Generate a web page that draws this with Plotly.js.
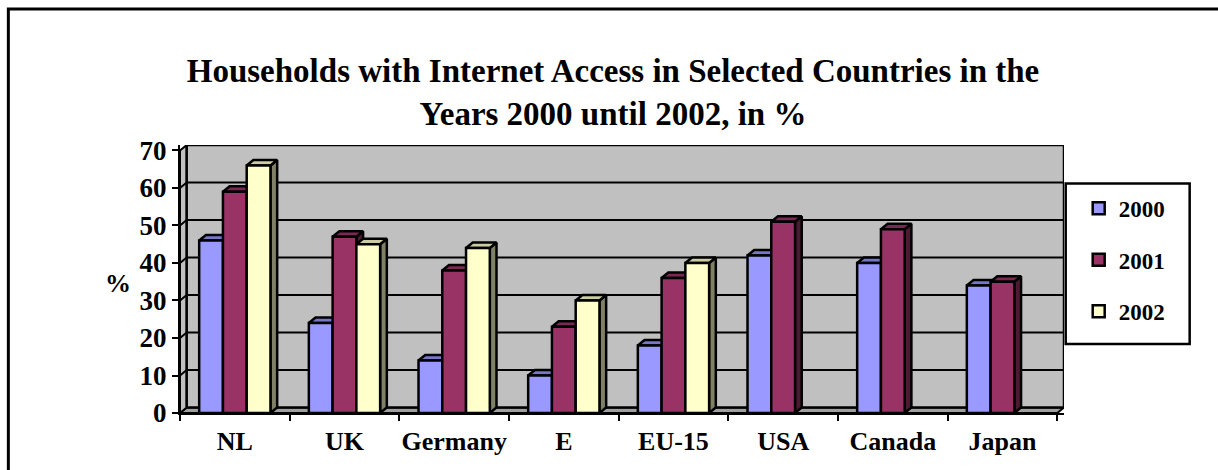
<!DOCTYPE html>
<html><head><meta charset="utf-8">
<script src="https://cdn.plot.ly/plotly-3.0.1.min.js"></script>
<style>html,body{margin:0;padding:0;background:#fff;} #chart{width:1218px;height:470px;}</style>
</head><body><div id="chart"></div>
<script>
// ---- data ----
const categories = ['NL', 'UK', 'Germany', 'E', 'EU-15', 'USA', 'Canada', 'Japan'];
const seriesNames = ['2000', '2001', '2002'];
const values2000 = [46, 24, 14, 10, 18, 42, 40, 34];
const values2001 = [59, 47, 38, 23, 36, 51, 49, 35];
const values2002 = [66, 45, 44, 30, 40, null, null, null];
const yTickValues = [0, 10, 20, 30, 40, 50, 60, 70];
const titleText = 'Households with Internet Access in Selected Countries in the<br>Years 2000 until 2002, in %';
const yTitleText = '%';

// ---- styles / geometry ----
const seriesValues = [values2000, values2001, values2002];
const frontColors = ['#9999FF', '#993366', '#FFFFCC'];
const topColors = ['#7777C8', '#7A2952', '#CCCCA3'];
const sideColors = ['#4D4D80', '#4D1A33', '#808066'];
const FONT = 'Liberation Serif, Times New Roman, serif';

const W = 1218, H = 470;
const plotLeft = 180, unitXpx = 109.7, y0px = 413.3, unitYpx = 263.3 / 70;
const depthXpx = 6.7, depthYpx = 5.5;
const dxu = depthXpx / unitXpx, dyu = depthYpx / unitYpx;
const nCat = categories.length;
const yMax = yTickValues[yTickValues.length - 1];
const xr = [-0.5, nCat - 0.5 + dxu];
const yr = [0, yMax + dyu];
const plotW = (xr[1] - xr[0]) * unitXpx;
const plotH = (yr[1] - yr[0]) * unitYpx;
const mL = plotLeft, mR = W - plotLeft - plotW, mT = y0px - plotH, mB = H - y0px;
const px2paperX = p => (p - mL) / plotW;
const px2paperY = p => (y0px - p) / plotH;

const bargap = 0.35;
const groupW = 1 - bargap;
const nSer = seriesValues.length;
const barW = groupW / nSer;
const barCenter = (i, k) => i - groupW / 2 + barW * (k + 0.5);

const traces = [];
const xL = -0.5, xRt = nCat - 0.5;

// floor
traces.push({x: [xL, xRt, xRt + dxu, xL + dxu, xL], y: [0, 0, dyu, dyu, 0],
  fill: 'toself', fillcolor: '#A0A0A0', mode: 'lines', line: {color: '#000', width: 2},
  hoverinfo: 'skip', showlegend: false});
// left wall
traces.push({x: [xL, xL + dxu, xL + dxu, xL, xL], y: [0, dyu, yMax + dyu, yMax, 0],
  fill: 'toself', fillcolor: '#C0C0C0', mode: 'lines', line: {color: '#000', width: 2},
  hoverinfo: 'skip', showlegend: false});
// back wall
traces.push({x: [xL + dxu, xRt + dxu, xRt + dxu, xL + dxu, xL + dxu], y: [dyu, dyu, yMax + dyu, yMax + dyu, dyu],
  fill: 'toself', fillcolor: '#C0C0C0', mode: 'lines', line: {color: '#000', width: 2.5},
  hoverinfo: 'skip', showlegend: false});
// gridlines
const gx = [], gy = [];
yTickValues.slice(1, -1).forEach(v => {
  gx.push(xL, xL + dxu, xRt + dxu, null);
  gy.push(v, v + dyu, v + dyu, null);
});
traces.push({x: gx, y: gy, mode: 'lines', line: {color: '#000', width: 2},
  hoverinfo: 'skip', showlegend: false, connectgaps: false});

// 3D sides and tops
seriesValues.forEach((vals, k) => {
  const sx = [], sy = [], tx = [], ty = [];
  vals.forEach((h, i) => {
    if (h === null) return;
    const c = barCenter(i, k), l = c - barW / 2, r = c + barW / 2;
    sx.push(r, r + dxu, r + dxu, r, r, null);
    sy.push(0, dyu, h + dyu, h, 0, null);
    tx.push(l, r, r + dxu, l + dxu, l, null);
    ty.push(h, h, h + dyu, h + dyu, h, null);
  });
  traces.push({x: sx, y: sy, fill: 'toself', fillcolor: sideColors[k], mode: 'lines',
    line: {color: '#000', width: 2.5}, hoverinfo: 'skip', showlegend: false});
  traces.push({x: tx, y: ty, fill: 'toself', fillcolor: topColors[k], mode: 'lines',
    line: {color: '#000', width: 2.5}, hoverinfo: 'skip', showlegend: false});
});

// front faces (bars) on overlay axes
seriesValues.forEach((vals, k) => {
  traces.push({type: 'bar', x: categories.map((_, i) => i), y: vals, name: seriesNames[k],
    xaxis: 'x2', yaxis: 'y2', legendgroup: seriesNames[k],
    marker: {color: frontColors[k], line: {color: '#000', width: 2.5}},
    hoverinfo: 'skip'});
});

const layout = {
  width: W, height: H,
  margin: {l: mL, r: mR, t: mT, b: mB, pad: 0},
  paper_bgcolor: '#fff', plot_bgcolor: 'rgba(0,0,0,0)',
  font: {family: FONT, color: '#000', size: 24, weight: 'bold'},
  title: {text: titleText, font: {family: FONT, size: 33, weight: 'bold', color: '#000'},
    x: 613 / W, xref: 'container', xanchor: 'center', y: 1 - 82 / H, yref: 'container', yanchor: 'middle'},
  barmode: 'group', bargap: bargap, bargroupgap: 0,
  showlegend: true,
  legend: {x: px2paperX(1079), y: px2paperY(186.5), xanchor: 'left', yanchor: 'top',
    bgcolor: 'rgba(0,0,0,0)', borderwidth: 0, traceorder: 'grouped', tracegroupgap: 18.5,
    font: {family: FONT, size: 23, weight: 'bold', color: '#000'}},
  xaxis: {range: xr, tickmode: 'array', tickvals: categories.map((_, i) => i), ticktext: categories,
    ticks: '', ticklabelstandoff: 4, showgrid: false, zeroline: false, showline: true, linecolor: '#000', linewidth: 2,
    tickfont: {family: FONT, size: 26, weight: 'bold', color: '#000'},
    minor: {tickmode: 'linear', tick0: -0.5, dtick: 1, ticks: 'outside', ticklen: 6, tickwidth: 2, tickcolor: '#000', showgrid: false},
    fixedrange: true},
  yaxis: {range: yr, tickmode: 'array', tickvals: yTickValues, ticks: 'outside', ticklen: 6, tickwidth: 2, tickcolor: '#000',
    showgrid: false, zeroline: false, showline: true, linecolor: '#000', linewidth: 2,
    tickfont: {family: FONT, size: 27, weight: 'bold', color: '#000'}, fixedrange: true},
  xaxis2: {range: xr, overlaying: 'x', visible: false, fixedrange: true},
  yaxis2: {range: yr, overlaying: 'y', visible: false, fixedrange: true},
  annotations: [{text: yTitleText, xref: 'paper', yref: 'paper', x: px2paperX(118), y: px2paperY(283),
    xanchor: 'center', yanchor: 'middle', showarrow: false,
    font: {family: FONT, size: 26, weight: 'bold', color: '#000'}}],
  shapes: [
    {type: 'rect', xref: 'paper', yref: 'paper', x0: px2paperX(8.3), x1: px2paperX(1220), y0: px2paperY(480), y1: px2paperY(8),
      line: {color: '#000', width: 3}, fillcolor: 'rgba(0,0,0,0)', layer: 'below'},
    {type: 'rect', xref: 'paper', yref: 'paper', x0: px2paperX(1066), x1: px2paperX(1190), y0: px2paperY(344), y1: px2paperY(183),
      line: {color: '#000', width: 2.5}, fillcolor: '#fff', layer: 'below'}
  ]
};

Plotly.newPlot('chart', traces, layout, {displayModeBar: false, staticPlot: true});
</script>
</body></html>
